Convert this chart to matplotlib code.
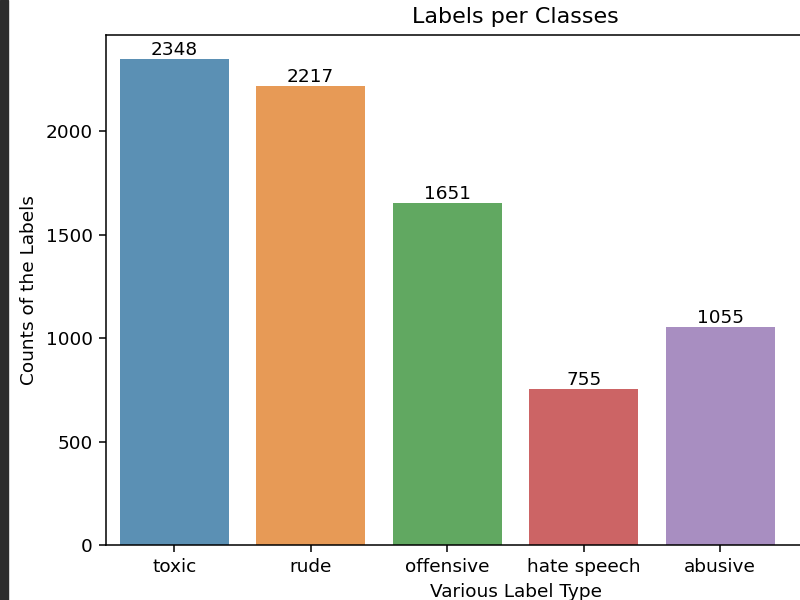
import matplotlib
matplotlib.use("Agg")
import matplotlib.pyplot as plt
import seaborn as sns
from matplotlib.patches import Rectangle

labels = ["toxic", "rude", "offensive", "hate speech", "abusive"]
counts = [2348, 2217, 1651, 755, 1055]

fig = plt.figure(figsize=(8, 6), dpi=100)
# the screenshot is cropped: axes run past the right edge (one more slot there)
ax = fig.add_axes([0.1325, 0.0917, 1.02375, 0.85])

sns.barplot(x=labels, y=counts, hue=labels, legend=False, alpha=0.8, ax=ax)
for c in ax.containers:
    ax.bar_label(c, fontsize=13.3)

ax.set_xlim(-0.5, 5.5)
ax.set_title("Labels per Classes", fontsize=16, pad=8.5)
ax.set_xlabel("Various Label Type", fontsize=13.3, labelpad=5.3)
ax.set_ylabel("Counts of the Labels", fontsize=13.3, labelpad=5.3)
ax.tick_params(labelsize=13.3, length=4.7, pad=4.7, width=1.1)
for s in ax.spines.values():
    s.set_linewidth(1.1)

# dark strip on the left edge of the screenshot
fig.patches.append(Rectangle((0, 0), 8 / 800, 1, transform=fig.transFigure,
                             color="#2d2d2d", zorder=0))

fig.savefig("out.png", dpi=100)
